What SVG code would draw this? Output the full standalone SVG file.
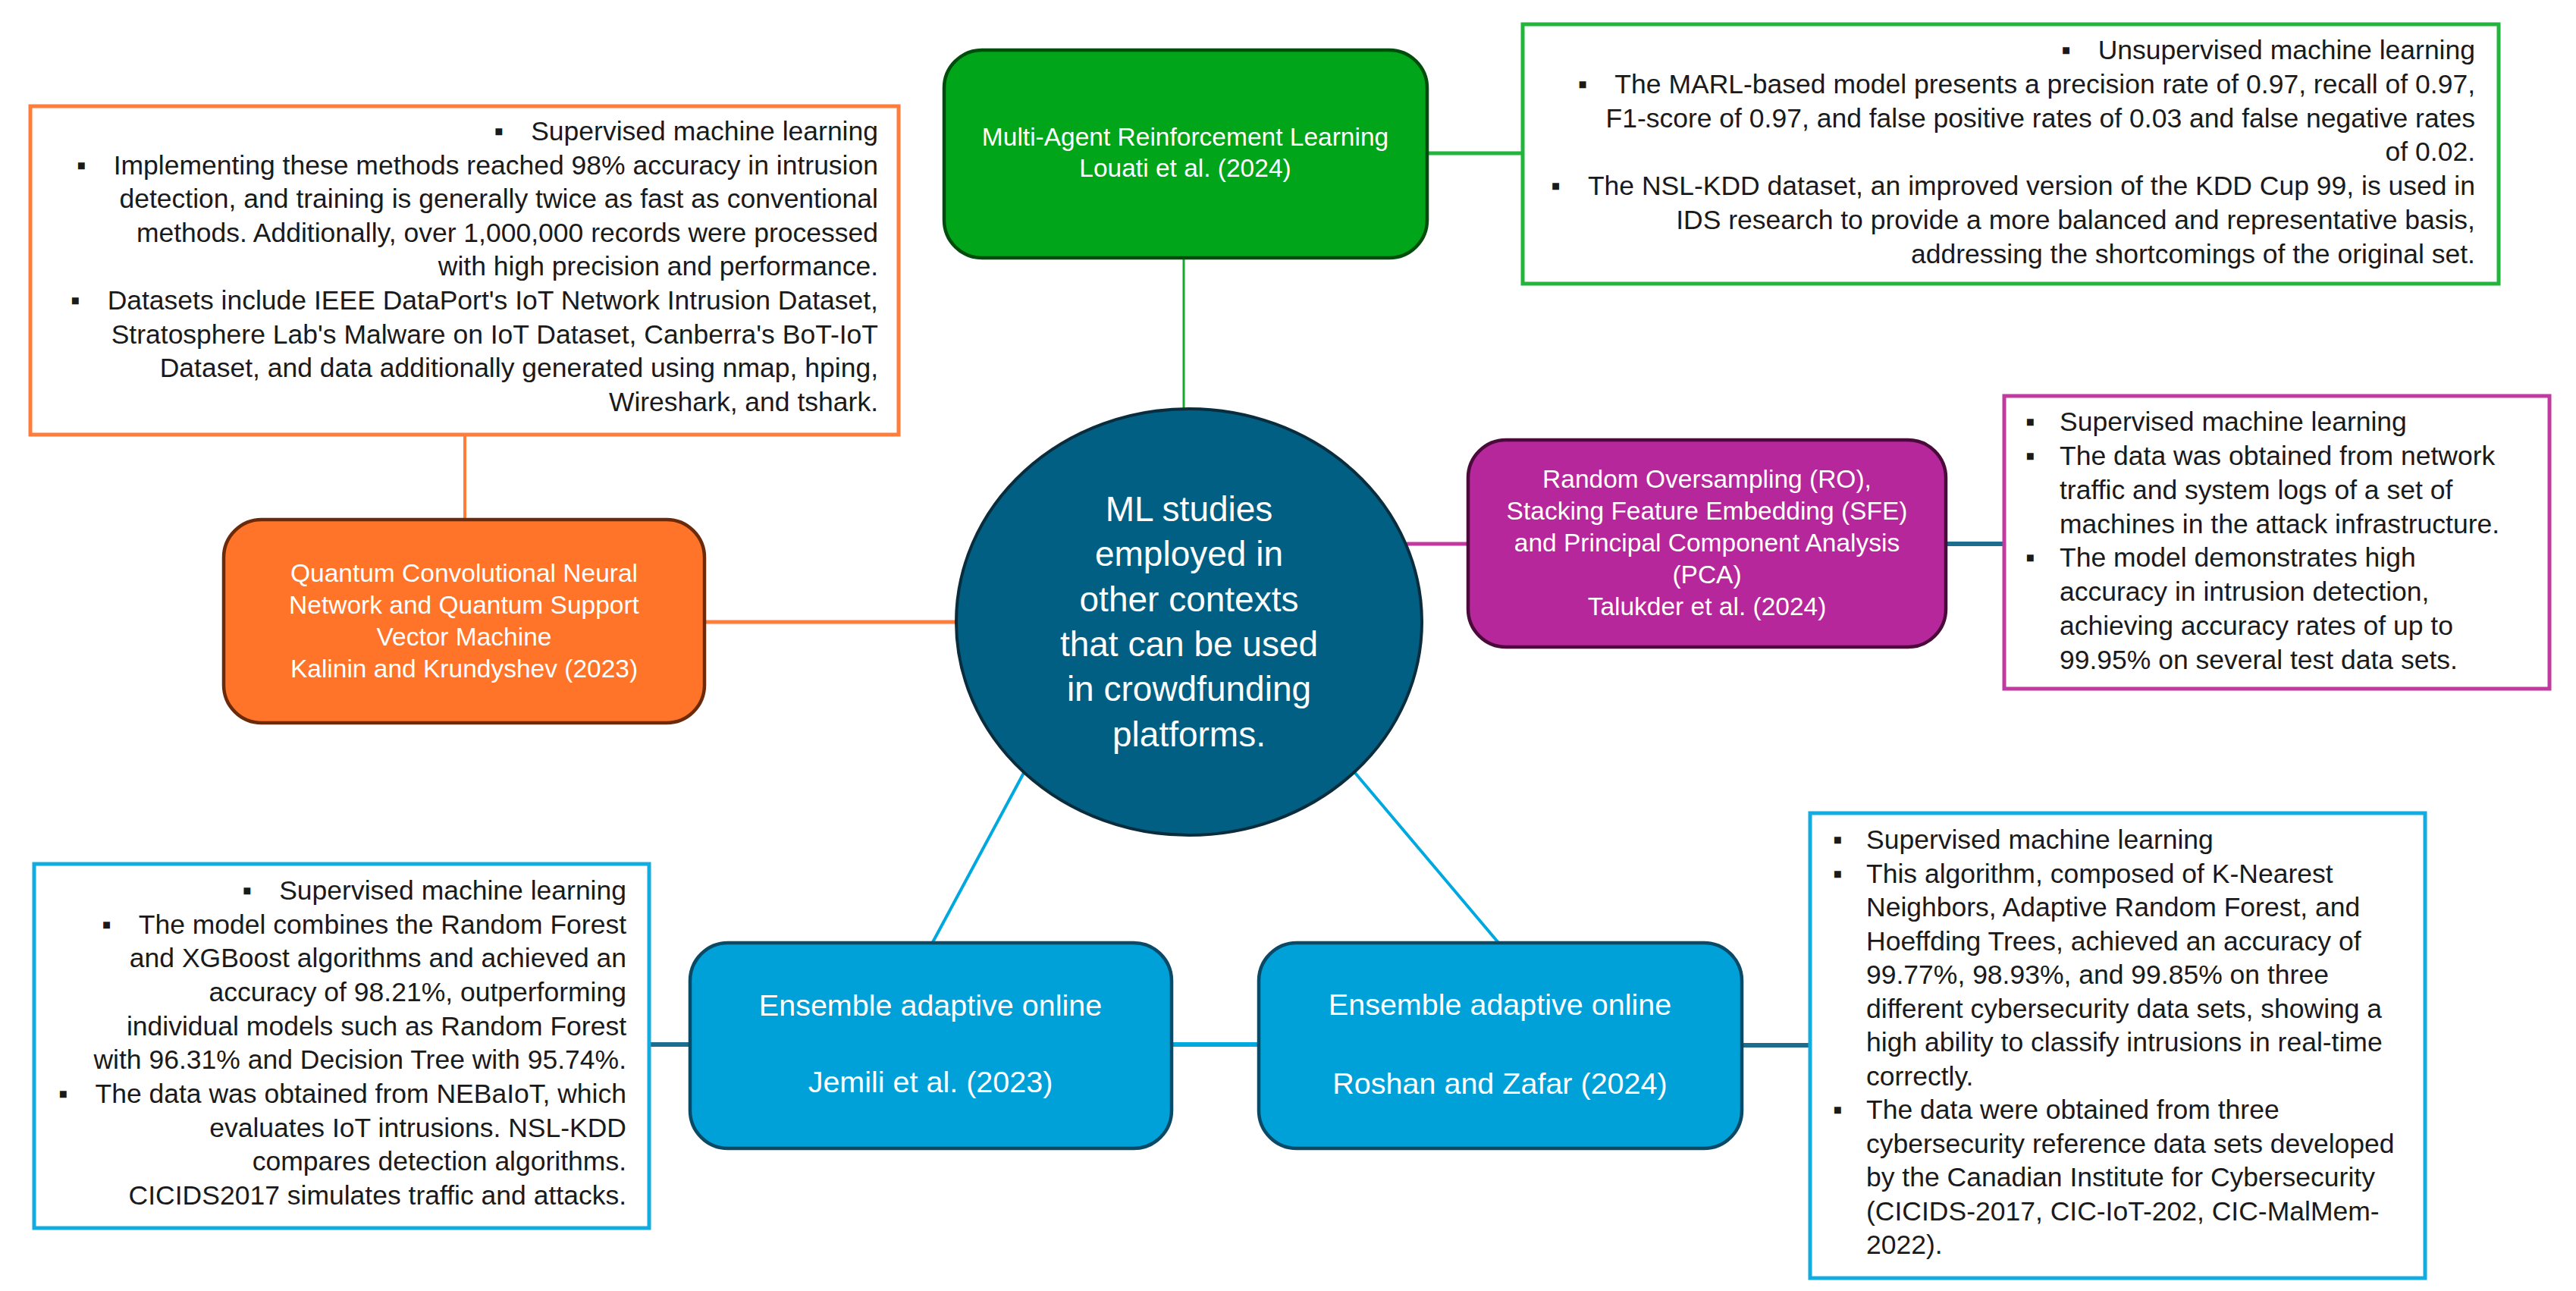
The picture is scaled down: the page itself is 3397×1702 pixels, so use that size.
<svg xmlns="http://www.w3.org/2000/svg" width="3397" height="1702" viewBox="0 0 3397 1702">
<style>
.t{font-family:"Liberation Sans",Arial,sans-serif;font-size:35.5px;fill:#1a1a1a}
.r{text-anchor:end}
.n{font-family:"Liberation Sans",Arial,sans-serif;font-size:33.5px;fill:#ffffff;text-anchor:middle}
.nb{font-size:39.5px}
.c{font-family:"Liberation Sans",Arial,sans-serif;font-size:46px;fill:#ffffff;text-anchor:middle}
.box{fill:#ffffff;stroke-width:5}
.node{stroke-width:4.5}
.ln{fill:none}
</style>
<rect width="3397" height="1702" fill="#ffffff"/>
<g id="connectors" class="ln">
<line x1="613" y1="573" x2="613" y2="686" stroke="#FF7C3A" stroke-width="4"/>
<line x1="929" y1="820" x2="1263" y2="820" stroke="#FF7C3A" stroke-width="5"/>
<line x1="1561" y1="340" x2="1561" y2="541" stroke="#19A82E" stroke-width="3"/>
<line x1="1882" y1="202" x2="2008" y2="202" stroke="#22B43C" stroke-width="5"/>
<line x1="1855" y1="717" x2="1936" y2="717" stroke="#C13AA0" stroke-width="5"/>
<line x1="2566" y1="717" x2="2643" y2="717" stroke="#1B6E8E" stroke-width="6"/>
<line x1="1350" y1="1019" x2="1229" y2="1244" stroke="#00A8E0" stroke-width="4"/>
<line x1="1787" y1="1019" x2="1977" y2="1244" stroke="#00A8E0" stroke-width="4"/>
<line x1="856" y1="1377" x2="910" y2="1377" stroke="#1B6E8E" stroke-width="6"/>
<line x1="1545" y1="1377" x2="1660" y2="1377" stroke="#00A8E0" stroke-width="6"/>
<line x1="2297" y1="1378" x2="2387" y2="1378" stroke="#1B6E8E" stroke-width="6"/>
</g>
<g id="center">
<ellipse cx="1568" cy="820" rx="307" ry="281" fill="#005F83" stroke="#0A2D3D" stroke-width="4"/>
<text class="c" x="1568" y="687">ML studies</text>
<text class="c" x="1568" y="746">employed in</text>
<text class="c" x="1568" y="806">other contexts</text>
<text class="c" x="1568" y="865">that can be used</text>
<text class="c" x="1568" y="924">in crowdfunding</text>
<text class="c" x="1568" y="984">platforms.</text>
</g>
<g id="node-qcnn">
<rect class="node" x="295" y="685" width="634" height="268" rx="50" fill="#FF7428" stroke="#6B2A0A"/>
<text class="n" x="612" y="767">Quantum Convolutional Neural</text>
<text class="n" x="612" y="809">Network and Quantum Support</text>
<text class="n" x="612" y="851">Vector Machine</text>
<text class="n" x="612" y="893">Kalinin and Krundyshev (2023)</text>
</g>
<g id="box-qcnn">
<rect class="box" x="40" y="140" width="1145" height="433" stroke="#FF7C3A"/>
<text class="t r" x="1158" y="185"><tspan>▪</tspan><tspan dx="36">Supervised machine learning</tspan></text>
<text class="t r" x="1158" y="229.6"><tspan>▪</tspan><tspan dx="36">Implementing these methods reached 98% accuracy in intrusion</tspan></text>
<text class="t r" x="1158" y="274.2">detection, and training is generally twice as fast as conventional</text>
<text class="t r" x="1158" y="318.8">methods. Additionally, over 1,000,000 records were processed</text>
<text class="t r" x="1158" y="363.4">with high precision and performance.</text>
<text class="t r" x="1158" y="408"><tspan>▪</tspan><tspan dx="36">Datasets include IEEE DataPort's IoT Network Intrusion Dataset,</tspan></text>
<text class="t r" x="1158" y="452.6">Stratosphere Lab's Malware on IoT Dataset, Canberra's BoT-IoT</text>
<text class="t r" x="1158" y="497.2">Dataset, and data additionally generated using nmap, hping,</text>
<text class="t r" x="1158" y="541.8">Wireshark, and tshark.</text>
</g>
<g id="node-marl">
<rect class="node" x="1245" y="66" width="637" height="274" rx="50" fill="#00A51A" stroke="#004D0C"/>
<text class="n" x="1563" y="192">Multi-Agent Reinforcement Learning</text>
<text class="n" x="1563" y="233">Louati et al. (2024)</text>
</g>
<g id="box-marl">
<rect class="box" x="2008" y="32" width="1287" height="342" stroke="#22B43C"/>
<text class="t r" x="3264" y="78"><tspan>▪</tspan><tspan dx="36">Unsupervised machine learning</tspan></text>
<text class="t r" x="3264" y="122.8"><tspan>▪</tspan><tspan dx="36">The MARL-based model presents a precision rate of 0.97, recall of 0.97,</tspan></text>
<text class="t r" x="3264" y="167.6">F1-score of 0.97, and false positive rates of 0.03 and false negative rates</text>
<text class="t r" x="3264" y="212.4">of 0.02.</text>
<text class="t r" x="3264" y="257.2"><tspan>▪</tspan><tspan dx="36">The NSL-KDD dataset, an improved version of the KDD Cup 99, is used in</tspan></text>
<text class="t r" x="3264" y="302">IDS research to provide a more balanced and representative basis,</text>
<text class="t r" x="3264" y="346.8">addressing the shortcomings of the original set.</text>
</g>
<g id="node-ro-sfe-pca">
<rect class="node" x="1936" y="580" width="630" height="273" rx="50" fill="#B5279A" stroke="#4A0A3A"/>
<text class="n" x="2251" y="643">Random Oversampling (RO),</text>
<text class="n" x="2251" y="685">Stacking Feature Embedding (SFE)</text>
<text class="n" x="2251" y="727">and Principal Component Analysis</text>
<text class="n" x="2251" y="769">(PCA)</text>
<text class="n" x="2251" y="811">Talukder et al. (2024)</text>
</g>
<g id="box-ro-sfe-pca">
<rect class="box" x="2643" y="522" width="719" height="386" stroke="#C13AA0"/>
<text class="t" x="2671" y="568">▪</text>
<text class="t" x="2716" y="568">Supervised machine learning</text>
<text class="t" x="2671" y="612.9">▪</text>
<text class="t" x="2716" y="612.9">The data was obtained from network</text>
<text class="t" x="2716" y="657.7">traffic and system logs of a set of</text>
<text class="t" x="2716" y="702.6">machines in the attack infrastructure.</text>
<text class="t" x="2671" y="747.4">▪</text>
<text class="t" x="2716" y="747.4">The model demonstrates high</text>
<text class="t" x="2716" y="792.3">accuracy in intrusion detection,</text>
<text class="t" x="2716" y="837.1">achieving accuracy rates of up to</text>
<text class="t" x="2716" y="882">99.95% on several test data sets.</text>
</g>
<g id="node-jemili">
<rect class="node" x="910" y="1243" width="635" height="271" rx="50" fill="#00A0D8" stroke="#0A4A66"/>
<text class="n nb" x="1227" y="1339">Ensemble adaptive online</text>
<text class="n nb" x="1227" y="1440">Jemili et al. (2023)</text>
</g>
<g id="box-jemili">
<rect class="box" x="45" y="1139" width="811" height="480" stroke="#12ACE0"/>
<text class="t r" x="826" y="1186"><tspan>▪</tspan><tspan dx="36">Supervised machine learning</tspan></text>
<text class="t r" x="826" y="1230.7"><tspan>▪</tspan><tspan dx="36">The model combines the Random Forest</tspan></text>
<text class="t r" x="826" y="1275.3">and XGBoost algorithms and achieved an</text>
<text class="t r" x="826" y="1320">accuracy of 98.21%, outperforming</text>
<text class="t r" x="826" y="1364.7">individual models such as Random Forest</text>
<text class="t r" x="826" y="1409.3">with 96.31% and Decision Tree with 95.74%.</text>
<text class="t r" x="826" y="1454"><tspan>▪</tspan><tspan dx="36">The data was obtained from NEBaIoT, which</tspan></text>
<text class="t r" x="826" y="1498.7">evaluates IoT intrusions. NSL-KDD</text>
<text class="t r" x="826" y="1543.3">compares detection algorithms.</text>
<text class="t r" x="826" y="1588">CICIDS2017 simulates traffic and attacks.</text>
</g>
<g id="node-roshan">
<rect class="node" x="1660" y="1243" width="637" height="271" rx="50" fill="#00A0D8" stroke="#0A4A66"/>
<text class="n nb" x="1978" y="1338">Ensemble adaptive online</text>
<text class="n nb" x="1978" y="1442">Roshan and Zafar (2024)</text>
</g>
<g id="box-roshan">
<rect class="box" x="2387" y="1072" width="811" height="613" stroke="#12ACE0"/>
<text class="t" x="2417" y="1119">▪</text>
<text class="t" x="2461" y="1119">Supervised machine learning</text>
<text class="t" x="2417" y="1163.5">▪</text>
<text class="t" x="2461" y="1163.5">This algorithm, composed of K-Nearest</text>
<text class="t" x="2461" y="1208">Neighbors, Adaptive Random Forest, and</text>
<text class="t" x="2461" y="1252.5">Hoeffding Trees, achieved an accuracy of</text>
<text class="t" x="2461" y="1297">99.77%, 98.93%, and 99.85% on three</text>
<text class="t" x="2461" y="1341.5">different cybersecurity data sets, showing a</text>
<text class="t" x="2461" y="1386">high ability to classify intrusions in real-time</text>
<text class="t" x="2461" y="1430.5">correctly.</text>
<text class="t" x="2417" y="1475">▪</text>
<text class="t" x="2461" y="1475">The data were obtained from three</text>
<text class="t" x="2461" y="1519.5">cybersecurity reference data sets developed</text>
<text class="t" x="2461" y="1564">by the Canadian Institute for Cybersecurity</text>
<text class="t" x="2461" y="1608.5">(CICIDS-2017, CIC-IoT-202, CIC-MalMem-</text>
<text class="t" x="2461" y="1653">2022).</text>
</g>
</svg>
